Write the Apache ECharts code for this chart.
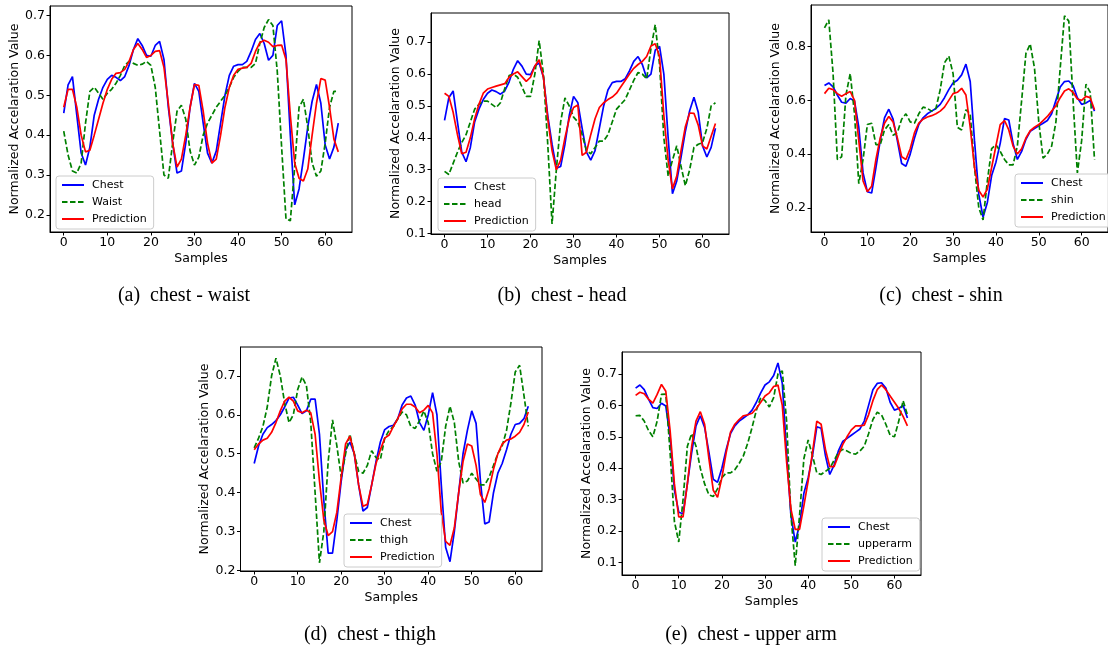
<!doctype html>
<html lang="en">
<head>
	<meta charset="UTF-8">
	<title>chest prediction</title>
	<script src="https://cdnjs.cloudflare.com/ajax/libs/echarts/6.0.0/echarts.min.js"></script>
	<style>
		html, body { margin: 0; padding: 0; background: #fff; }
		#main { width: 1108px; height: 654px; }
	</style>
</head>
<body>
	<div id="main"></div>
	<script type="text/javascript">
		// sample index 0..63
		var samples = [];
		for (var s = 0; s < 64; s++) samples.push(s);

		var xTicks = [0, 10, 20, 30, 40, 50, 60];

		// (a) chest - waist
		var chestA = [0.455, 0.526, 0.547, 0.45, 0.355, 0.325, 0.37, 0.45, 0.49, 0.52, 0.54, 0.55, 0.545, 0.537, 0.547, 0.575,
			0.615, 0.642, 0.625, 0.6, 0.598, 0.625, 0.635, 0.59, 0.47, 0.38, 0.305, 0.31, 0.38, 0.47, 0.53, 0.51,
			0.43, 0.355, 0.33, 0.36, 0.43, 0.5, 0.55, 0.573, 0.577, 0.577, 0.585, 0.61, 0.64, 0.655, 0.63, 0.588,
			0.6, 0.675, 0.687, 0.6, 0.4, 0.225, 0.265, 0.34, 0.42, 0.485, 0.527, 0.48, 0.375, 0.34, 0.37, 0.43];
		var waist = [0.41, 0.35, 0.31, 0.305, 0.33, 0.43, 0.51, 0.52, 0.505, 0.49, 0.505, 0.515, 0.53, 0.55, 0.575, 0.585,
			0.58, 0.575, 0.578, 0.585, 0.575, 0.52, 0.41, 0.3, 0.292, 0.38, 0.46, 0.475, 0.44, 0.36, 0.325, 0.345,
			0.4, 0.43, 0.45, 0.47, 0.485, 0.5, 0.52, 0.545, 0.56, 0.57, 0.57, 0.57, 0.58, 0.63, 0.67, 0.69,
			0.675, 0.56, 0.37, 0.19, 0.185, 0.32, 0.47, 0.49, 0.42, 0.33, 0.297, 0.31, 0.38, 0.47, 0.51, 0.51];
		var predWaist = [0.47, 0.515, 0.515, 0.47, 0.4, 0.358, 0.362, 0.4, 0.44, 0.48, 0.515, 0.54, 0.555, 0.557, 0.565, 0.585,
			0.615, 0.63, 0.615, 0.595, 0.6, 0.61, 0.612, 0.57, 0.48, 0.38, 0.32, 0.34, 0.4, 0.47, 0.527, 0.525,
			0.46, 0.38, 0.33, 0.34, 0.4, 0.47, 0.52, 0.55, 0.565, 0.568, 0.57, 0.58, 0.61, 0.632, 0.638, 0.633,
			0.622, 0.625, 0.626, 0.59, 0.45, 0.33, 0.292, 0.285, 0.315, 0.4, 0.48, 0.542, 0.538, 0.47, 0.39, 0.358];

		// (b) chest - head
		var head = [0.295, 0.285, 0.32, 0.355, 0.385, 0.41, 0.45, 0.49, 0.505, 0.515, 0.515, 0.505, 0.495, 0.51, 0.555, 0.595,
			0.6, 0.59, 0.56, 0.53, 0.53, 0.6, 0.705, 0.6, 0.38, 0.13, 0.3, 0.45, 0.525, 0.5, 0.465, 0.45,
			0.41, 0.36, 0.35, 0.37, 0.39, 0.39, 0.41, 0.45, 0.49, 0.505, 0.52, 0.55, 0.58, 0.605, 0.6, 0.585,
			0.68, 0.755, 0.63, 0.4, 0.28, 0.33, 0.375, 0.31, 0.25, 0.3, 0.37, 0.38, 0.385, 0.43, 0.5, 0.51];
		var predHead = [0.54, 0.53, 0.48, 0.41, 0.35, 0.355, 0.4, 0.46, 0.505, 0.54, 0.553, 0.558, 0.562, 0.566, 0.57, 0.59,
			0.6, 0.607, 0.592, 0.577, 0.59, 0.625, 0.645, 0.59, 0.46, 0.36, 0.3, 0.33, 0.4, 0.46, 0.495, 0.503,
			0.345, 0.355, 0.41, 0.46, 0.495, 0.51, 0.52, 0.528, 0.54, 0.56, 0.58, 0.6, 0.618, 0.63, 0.64, 0.655,
			0.688, 0.695, 0.655, 0.47, 0.33, 0.24, 0.28, 0.36, 0.435, 0.478, 0.477, 0.44, 0.375, 0.365, 0.405, 0.445];

		// (c) chest - shin  and  (e) chest - upper arm share this chest signal
		var chestC = [0.655, 0.665, 0.65, 0.62, 0.593, 0.59, 0.607, 0.598, 0.5, 0.33, 0.26, 0.255, 0.35, 0.45, 0.535, 0.567,
			0.53, 0.45, 0.365, 0.355, 0.4, 0.46, 0.51, 0.535, 0.55, 0.56, 0.57, 0.585, 0.61, 0.64, 0.665, 0.675,
			0.695, 0.735, 0.67, 0.45, 0.25, 0.165, 0.22, 0.32, 0.37, 0.44, 0.532, 0.527, 0.44, 0.38, 0.41, 0.455,
			0.485, 0.495, 0.505, 0.515, 0.525, 0.55, 0.6, 0.65, 0.67, 0.672, 0.655, 0.61, 0.585, 0.59, 0.6, 0.56];
		var shin = [0.87, 0.9, 0.7, 0.38, 0.39, 0.62, 0.7, 0.55, 0.29, 0.38, 0.51, 0.515, 0.435, 0.435, 0.49, 0.51,
			0.47, 0.48, 0.53, 0.55, 0.52, 0.515, 0.55, 0.575, 0.57, 0.56, 0.57, 0.64, 0.74, 0.765, 0.7, 0.5,
			0.49, 0.565, 0.55, 0.35, 0.2, 0.155, 0.3, 0.42, 0.435, 0.41, 0.38, 0.36, 0.36, 0.43, 0.6, 0.775,
			0.81, 0.72, 0.52, 0.385, 0.4, 0.43, 0.52, 0.72, 0.915, 0.895, 0.6, 0.33, 0.45, 0.66, 0.63, 0.38];
		var predShin = [0.625, 0.645, 0.64, 0.625, 0.615, 0.625, 0.633, 0.6, 0.45, 0.3, 0.26, 0.28, 0.38, 0.46, 0.515, 0.54,
			0.52, 0.46, 0.39, 0.38, 0.42, 0.48, 0.515, 0.53, 0.538, 0.543, 0.55, 0.56, 0.575, 0.6, 0.625, 0.63,
			0.645, 0.62, 0.5, 0.35, 0.265, 0.24, 0.27, 0.35, 0.43, 0.51, 0.525, 0.49, 0.43, 0.4, 0.42, 0.46,
			0.487, 0.5, 0.51, 0.525, 0.54, 0.56, 0.58, 0.61, 0.635, 0.643, 0.63, 0.605, 0.6, 0.615, 0.61, 0.565];

		// (d) chest - thigh
		var chestD = [0.475, 0.52, 0.55, 0.567, 0.575, 0.585, 0.6, 0.62, 0.643, 0.645, 0.625, 0.603, 0.61, 0.64, 0.64, 0.55,
			0.38, 0.245, 0.245, 0.33, 0.43, 0.51, 0.53, 0.5, 0.42, 0.353, 0.362, 0.42, 0.48, 0.53, 0.562, 0.57,
			0.573, 0.59, 0.625, 0.643, 0.648, 0.625, 0.58, 0.56, 0.6, 0.657, 0.6, 0.42, 0.26, 0.223, 0.3, 0.4,
			0.5, 0.56, 0.61, 0.578, 0.43, 0.32, 0.325, 0.4, 0.45, 0.475, 0.51, 0.55, 0.575, 0.578, 0.59, 0.622];
		var thigh = [0.515, 0.54, 0.57, 0.62, 0.7, 0.745, 0.7, 0.63, 0.58, 0.6, 0.665, 0.697, 0.675, 0.58, 0.4, 0.22,
			0.3, 0.48, 0.587, 0.52, 0.44, 0.5, 0.55, 0.5, 0.455, 0.45, 0.47, 0.508, 0.49, 0.485, 0.54, 0.56,
			0.57, 0.59, 0.607, 0.6, 0.57, 0.565, 0.585, 0.61, 0.58, 0.5, 0.455, 0.48, 0.57, 0.622, 0.58, 0.48,
			0.425, 0.43, 0.45, 0.435, 0.42, 0.42, 0.44, 0.47, 0.5, 0.52, 0.56, 0.63, 0.71, 0.727, 0.65, 0.57];
		var predThigh = [0.51, 0.525, 0.535, 0.54, 0.555, 0.58, 0.61, 0.635, 0.645, 0.635, 0.61, 0.605, 0.612, 0.605, 0.55, 0.43,
			0.33, 0.29, 0.3, 0.35, 0.44, 0.525, 0.545, 0.5, 0.42, 0.365, 0.37, 0.42, 0.475, 0.51, 0.54, 0.548,
			0.57, 0.59, 0.615, 0.627, 0.627, 0.62, 0.605, 0.612, 0.624, 0.605, 0.5, 0.35, 0.275, 0.265, 0.31, 0.4,
			0.48, 0.525, 0.52, 0.47, 0.395, 0.375, 0.41, 0.46, 0.5, 0.525, 0.535, 0.538, 0.545, 0.555, 0.575, 0.607];

		// (e) chest - upper arm
		var upperarm = [0.567, 0.568, 0.55, 0.52, 0.5, 0.55, 0.635, 0.636, 0.45, 0.23, 0.165, 0.3, 0.47, 0.51, 0.47, 0.4,
			0.35, 0.315, 0.31, 0.335, 0.37, 0.385, 0.385, 0.395, 0.415, 0.44, 0.48, 0.53, 0.585, 0.625, 0.615, 0.595,
			0.625, 0.7, 0.71, 0.55, 0.25, 0.09, 0.25, 0.43, 0.49, 0.44, 0.385, 0.38, 0.39, 0.4, 0.425, 0.45,
			0.46, 0.455, 0.447, 0.445, 0.455, 0.47, 0.51, 0.555, 0.578, 0.57, 0.54, 0.505, 0.5, 0.55, 0.615, 0.57];
		var predUpperarm = [0.632, 0.642, 0.637, 0.62, 0.607, 0.635, 0.667, 0.645, 0.52, 0.35, 0.245, 0.245, 0.35, 0.47, 0.55, 0.58,
			0.54, 0.43, 0.33, 0.307, 0.37, 0.45, 0.515, 0.54, 0.555, 0.567, 0.57, 0.575, 0.59, 0.61, 0.63, 0.64,
			0.66, 0.665, 0.6, 0.42, 0.27, 0.205, 0.205, 0.28, 0.36, 0.45, 0.55, 0.54, 0.46, 0.405, 0.405, 0.44,
			0.475, 0.5, 0.522, 0.535, 0.535, 0.537, 0.57, 0.615, 0.65, 0.665, 0.65, 0.63, 0.61, 0.59, 0.565, 0.535];

		// per panel: frame box, y range, y ticks, legend box, caption
		var panels = [
			{ sensor: 'Waist', chest: chestA, other: waist, pred: predWaist,
				box: [50, 6, 302, 226], y: [0.157, 0.724], yTicks: [0.2, 0.3, 0.4, 0.5, 0.6, 0.7],
				legend: [56, 176], caption: '(a)\u2002chest - waist', cap: [184, 296] },
			{ sensor: 'head', chest: chestA, other: head, pred: predHead,
				box: [431, 13, 298, 221], y: [0.0985, 0.7915], yTicks: [0.1, 0.2, 0.3, 0.4, 0.5, 0.6, 0.7],
				legend: [438, 178], caption: '(b)\u2002chest - head', cap: [562, 296] },
			{ sensor: 'shin', chest: chestC, other: shin, pred: predShin,
				box: [811, 5, 304, 227], y: [0.11, 0.955], yTicks: [0.2, 0.4, 0.6, 0.8],
				legend: [1015, 174], caption: '(c)\u2002chest - shin', cap: [941, 296] },
			{ sensor: 'thigh', chest: chestD, other: thigh, pred: predThigh,
				box: [240.5, 347, 301.5, 224], y: [0.199, 0.774], yTicks: [0.2, 0.3, 0.4, 0.5, 0.6, 0.7],
				legend: [344, 514], caption: '(d)\u2002chest - thigh', cap: [370, 635] },
			{ sensor: 'upperarm', chest: chestC, other: upperarm, pred: predUpperarm,
				box: [622, 352, 299, 223], y: [0.06, 0.77], yTicks: [0.1, 0.2, 0.3, 0.4, 0.5, 0.6, 0.7],
				legend: [822, 518], caption: '(e)\u2002chest - upper arm', cap: [751, 635] }
		];

		var FONT = 'DejaVu Sans';
		var grid = [], xAxis = [], yAxis = [], series = [], legend = [], graphic = [];

		function pairs(vals) {
			return samples.map(function (x, i) { return [x, vals[i]]; });
		}

		panels.forEach(function (p, k) {
			grid.push({
				left: p.box[0], top: p.box[1], width: p.box[2], height: p.box[3],
				show: true, borderColor: '#000', borderWidth: 1, backgroundColor: 'transparent'
			});
			xAxis.push({
				gridIndex: k, type: 'value', min: -3.15, max: 66.15,
				name: 'Samples', nameLocation: 'middle', nameGap: 20,
				nameTextStyle: { fontFamily: FONT, fontSize: 12.5, color: '#000' },
				axisLine: { onZero: false, lineStyle: { color: '#000', width: 1 } },
				axisTick: { customValues: xTicks, length: 3.5, lineStyle: { color: '#000' } },
				axisLabel: { customValues: xTicks, margin: 4, fontFamily: FONT, fontSize: 12.5, color: '#000' },
				splitLine: { show: false }
			});
			yAxis.push({
				gridIndex: k, type: 'value', min: p.y[0], max: p.y[1],
				name: 'Normalized Accelaration Value', nameLocation: 'middle', nameGap: 28,
				nameTextStyle: { fontFamily: FONT, fontSize: 12.5, color: '#000' },
				axisLine: { show: true, onZero: false, lineStyle: { color: '#000', width: 1 } },
				axisTick: { show: true, customValues: p.yTicks, length: 3.5, lineStyle: { color: '#000' } },
				axisLabel: {
					customValues: p.yTicks, margin: 5, fontFamily: FONT, fontSize: 12.5, color: '#000',
					formatter: function (v) { return v.toFixed(1); }
				},
				splitLine: { show: false }
			});
			series.push({
				name: 'Chest', type: 'line', xAxisIndex: k, yAxisIndex: k, symbol: 'none',
				lineStyle: { color: '#0000ff', width: 1.7 }, itemStyle: { color: '#0000ff' },
				data: pairs(p.chest)
			});
			series.push({
				name: p.sensor, type: 'line', xAxisIndex: k, yAxisIndex: k, symbol: 'none',
				lineStyle: { color: '#008000', width: 1.7, type: [5.5, 2.5] }, itemStyle: { color: '#008000' },
				data: pairs(p.other)
			});
			series.push({
				name: 'Prediction', type: 'line', xAxisIndex: k, yAxisIndex: k, symbol: 'none',
				lineStyle: { color: '#ff0000', width: 1.7 }, itemStyle: { color: '#ff0000' },
				data: pairs(p.pred)
			});
			legend.push({
				orient: 'vertical', left: p.legend[0], top: p.legend[1],
				data: ['Chest', p.sensor, 'Prediction'],
				selectedMode: false,
				itemWidth: 22, itemHeight: 12, itemGap: 5,
				// hide the marker that echarts puts in the middle of a line legend icon
				itemStyle: { color: 'transparent', borderColor: 'transparent', borderWidth: 0, opacity: 0 },
				padding: [3, 7, 4, 5],
				backgroundColor: 'rgba(255,255,255,0.85)', borderColor: '#cccccc', borderWidth: 1, borderRadius: 3,
				textStyle: { fontFamily: FONT, fontSize: 11, lineHeight: 12, color: '#000', padding: [0, 0, 0, 3] }
			});
			graphic.push({
				type: 'text', x: p.cap[0], y: p.cap[1],
				style: {
					text: p.caption, font: '20px "Liberation Serif"', fill: '#000',
					textAlign: 'center', textVerticalAlign: 'middle', align: 'center', verticalAlign: 'middle'
				}
			});
		});

		var myChart = echarts.init(document.getElementById('main'));
		myChart.setOption({
			animation: false,
			backgroundColor: '#fff',
			grid: grid,
			xAxis: xAxis,
			yAxis: yAxis,
			legend: legend,
			graphic: graphic,
			series: series
		});
	</script>
</body>
</html>
